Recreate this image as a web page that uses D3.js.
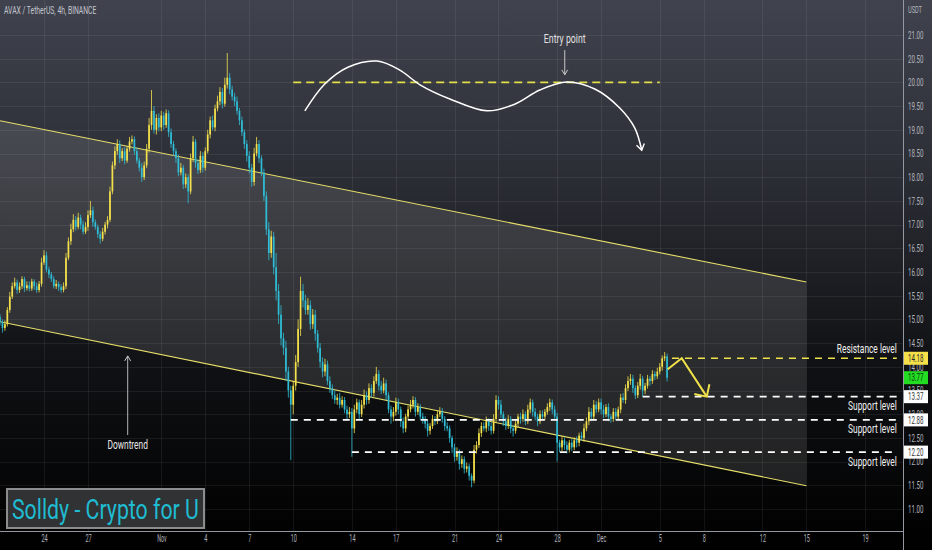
<!DOCTYPE html>
<html>
<head>
<meta charset="utf-8">
<script src="https://cdn.jsdelivr.net/npm/d3@7"></script>
<style>
  html, body { margin: 0; padding: 0; background: #000; }
  svg { display: block; }
  text { font-family: Roboto, "Liberation Sans", sans-serif; }
</style>
</head>
<body>
<svg id="chart" width="932" height="550"></svg>
<script>
// AVAX / TetherUS 4h candles, first bar 2022-10-21 00:00 UTC
const firstBar = "2022-10-21T00:00";
const firstOpen = 15.05;

// closes, six bars a day
const closes = [
  14.95, 14.82, 14.90, 15.20, 15.48, 15.70, // oct 21
  15.78, 15.62, 15.70, 15.85, 15.66, 15.72,
  15.65, 15.80, 15.70, 15.62, 15.75, 16.20,
  16.35, 16.05, 15.95, 15.85, 15.70, 15.75, // oct 24
  15.68, 15.62, 15.70, 16.30, 16.65, 16.90,
  17.10, 16.95, 17.15, 17.00, 16.85, 16.95,
  17.20, 17.30, 17.05, 16.95, 16.80, 16.70, // oct 27
  16.85, 17.00, 17.10, 17.70, 18.25, 18.55,
  18.70, 18.40, 18.55, 18.35, 18.60, 18.75,
  18.80, 18.55, 18.35, 18.20, 18.00, 18.25, // oct 30
  18.60, 19.10, 19.40, 19.00, 19.25, 19.05,
  19.30, 19.10, 19.35, 18.95, 18.70, 18.55, // nov 1
  18.40, 18.10, 18.20, 17.85, 18.00, 17.70,
  18.40, 18.75, 18.30, 18.15, 18.45, 18.20,
  18.55, 18.90, 19.20, 19.05, 19.45, 19.60, // nov 4
  19.80, 19.55, 19.95, 20.10, 19.85, 19.70,
  19.60, 19.40, 19.20, 18.95, 18.70, 18.45,
  18.20, 17.90, 18.50, 18.70, 18.40, 18.10, // nov 7
  17.60, 16.90, 16.40, 16.75, 16.10, 15.60,
  15.10, 14.60, 14.40, 13.90, 13.50, 13.20,
  13.60, 14.10, 14.80, 15.60, 15.40, 15.20, // nov 10
  15.30, 14.90, 15.10, 14.70, 14.40, 14.10,
  13.90, 14.05, 13.70, 13.55, 13.40, 13.30,
  13.35, 13.20, 13.30, 13.10, 13.00, 13.05,
  12.70, 13.10, 13.25, 13.00, 13.20, 13.40, // nov 14
  13.30, 13.55, 13.45, 13.70, 13.85, 13.60,
  13.50, 13.65, 13.40, 13.10, 12.95, 13.05,
  13.25, 13.10, 12.85, 12.70, 12.95, 13.10, // nov 17
  13.20, 13.30, 13.05, 13.15, 12.95, 12.90,
  12.80, 12.65, 12.75, 12.90, 12.85, 13.00,
  13.05, 12.90, 12.75, 12.70, 12.50, 12.30,
  12.10, 12.20, 11.95, 12.05, 11.85, 11.90, // nov 21
  11.70, 11.60, 12.25, 12.35, 12.60, 12.75,
  12.70, 12.85, 12.75, 12.65, 12.90, 13.30,
  13.20, 13.00, 12.85, 12.75, 12.90, 12.70, // nov 24
  12.65, 12.80, 12.95, 12.90, 13.00, 12.85,
  13.10, 13.25, 13.05, 12.95, 12.85, 13.00,
  12.95, 13.05, 13.15, 13.25, 13.10, 12.95,
  12.40, 12.30, 12.45, 12.35, 12.25, 12.40, // nov 28
  12.30, 12.45, 12.40, 12.55, 12.50, 12.70,
  12.85, 13.05, 12.95, 13.20, 13.10, 13.25,
  13.10, 13.00, 13.15, 12.95, 12.90, 13.05, // dec 1
  12.95, 13.10, 13.35, 13.30, 13.55, 13.70,
  13.75, 13.55, 13.40, 13.60, 13.75, 13.50,
  13.60, 13.75, 13.70, 13.85, 13.80, 13.90,
  14.00, 14.18, 14.22, 13.77                // dec 5
];

// wick lengths beyond the body, in cents
const wickUp = [
  6, 5, 8, 6, 10, 8,   10, 6, 8, 6, 5, 8,   8, 6, 5, 8, 6, 10,
  11, 8, 6, 5, 6, 8,   5, 6, 8, 10, 8, 12,  12, 8, 10, 6, 8, 10,
  10, 20, 8, 6, 5, 6,  8, 6, 8, 10, 8, 10,  10, 8, 6, 8, 6, 10,
  8, 6, 8, 6, 10, 8,   10, 15, 44, 10, 8, 10,
  10, 8, 8, 6, 8, 6,   6, 8, 10, 6, 8, 6,   10, 12, 6, 8, 10, 8,
  8, 10, 8, 10, 8, 12, 10, 8, 15, 52, 10, 8, 8, 10, 6, 8, 6, 8,
  10, 8, 12, 15, 8, 6, 8, 10, 15, 12, 10, 30, 15, 20, 12, 15, 10, 10,
  10, 15, 20, 30, 15, 12, 15, 10, 12, 10, 8, 10, 10, 12, 8, 10, 8, 10,
  8, 10, 8, 6, 8, 10,  8, 10, 8, 6, 10, 12, 8, 10, 8, 10, 15, 8,
  10, 12, 8, 6, 8, 10, 10, 8, 6, 8, 6, 8,   10, 8, 6, 8, 6, 8,
  6, 8, 6, 8, 6, 8,    10, 8, 6, 8, 6, 5,   8, 10, 6, 8, 6, 8,
  6, 5, 10, 8, 10, 8,  8, 10, 6, 8, 10, 10, 8, 10, 6, 8, 8, 6,
  6, 8, 6, 8, 10, 6,   10, 8, 6, 8, 6, 8,   8, 6, 8, 8, 6, 8,
  8, 6, 8, 6, 8, 6,    8, 6, 8, 6, 8, 10,   8, 10, 8, 10, 8, 8,
  8, 10, 6, 8, 6, 8,   8, 6, 8, 10, 8, 10,  10, 8, 6, 8, 10, 6,
  6, 8, 6, 8, 6, 8,    8, 6, 9, 6
];
const wickDown = [
  8, 10, 6, 5, 6, 5,   5, 8, 6, 6, 8, 5,    6, 5, 8, 6, 5, 6,
  5, 6, 8, 6, 5, 6,    8, 6, 5, 6, 5, 8,    6, 8, 5, 10, 6, 5,
  8, 6, 10, 6, 8, 10,  5, 6, 8, 5, 6, 8,    8, 10, 6, 8, 5, 6,
  6, 8, 6, 8, 10, 6,   6, 8, 10, 8, 10, 8,
  8, 10, 6, 10, 8, 10, 10, 8, 6, 10, 8, 25, 6, 8, 10, 8, 6, 10,
  6, 5, 8, 6, 8, 6,    8, 10, 6, 8, 10, 8,  10, 8, 10, 8, 10, 12,
  12, 10, 8, 6, 10, 8, 10, 12, 15, 10, 15, 20, 20, 15, 15, 20, 15, 117,
  20, 10, 10, 15, 15, 10, 10, 12, 10, 15, 10, 12, 12, 10, 8, 10, 8, 8,
  10, 8, 6, 8, 10, 8,  60, 10, 8, 10, 6, 8, 10, 8, 10, 8, 6, 10,
  8, 6, 10, 8, 15, 10, 8, 10, 12, 10, 8, 6,  6, 8, 10, 6, 8, 10,
  10, 12, 8, 6, 8, 6,  6, 8, 10, 6, 10, 12, 10, 8, 12, 8, 10, 8,
  10, 14, 6, 8, 6, 8,  6, 8, 10, 8, 6, 8,   10, 8, 10, 8, 6, 10,
  12, 6, 8, 10, 6, 8,  6, 8, 10, 8, 10, 6,  6, 8, 6, 8, 10, 8,
  40, 10, 8, 10, 8, 6, 8, 6, 10, 8, 6, 8,   6, 8, 10, 6, 8, 6,
  10, 8, 6, 10, 8, 6,  8, 6, 8, 6, 8, 6,    8, 10, 8, 6, 8, 13,
  8, 6, 10, 6, 8, 6,   6, 8, 6, 8
];

const lastPrice = 13.77;

const xTicks = ["2022-10-24", "2022-10-27", "2022-11-01", "2022-11-04", "2022-11-07", "2022-11-10",
  "2022-11-14", "2022-11-17", "2022-11-21", "2022-11-24", "2022-11-28", "2022-12-01",
  "2022-12-05", "2022-12-08", "2022-12-12", "2022-12-15", "2022-12-19"];
const xTickLabels = ["24", "27", "Nov", "4", "7", "10", "14", "17", "21", "24", "28", "Dec", "5", "8", "12", "15", "19"];
const yTicks = [11, 11.5, 12, 12.5, 13, 13.5, 14, 14.5, 15, 15.5, 16, 16.5, 17, 17.5, 18, 18.5, 19, 19.5, 20, 20.5, 21];

// drawn channel
const channelDates = ["2022-10-21T00:00", "2022-12-15T00:00"];
const channelUpper = [19.19, 15.79];
const channelLower = [14.95, 11.49];

// levels
const levelNames = ["Resistance level", "Support level", "Support level", "Support level"];
const levelPrices = [14.18, 13.37, 12.88, 12.20];
const levelStarts = ["2022-12-05T20:00", "2022-12-03T20:00", "2022-11-09T20:00", "2022-11-14T00:00"];
const levelEnd = "2022-12-21T04:00";

const entryPrice = 20.00;
const entryDates = ["2022-11-10T00:00", "2022-12-05T00:00"];
const entryArrowDate = "2022-11-28T12:30";
const entryArrowPrices = [20.68, 20.16];
const entryTextPrice = 20.92;

// hand drawn scenario curve
const pathDates = ["2022-11-10T19:00", "2022-11-12T04:00", "2022-11-13T17:30", "2022-11-15T17:00",
  "2022-11-17T06:30", "2022-11-18T15:30", "2022-11-20T16:30", "2022-11-23T05:00", "2022-11-25T02:30",
  "2022-11-26T19:40", "2022-11-28T16:00", "2022-11-30T13:40", "2022-12-02T06:30", "2022-12-03T07:00",
  "2022-12-03T18:30"];
const pathPrices = [19.40, 19.97, 20.32, 20.45, 20.26, 19.95, 19.65, 19.40, 19.54, 19.84, 20.01, 19.86,
  19.46, 19.04, 18.57];

// expected move arrow
const moveDates = ["2022-12-05T13:00", "2022-12-06T12:00", "2022-12-08T05:00"];
const movePrices = [13.95, 14.18, 13.37];

const downtrendDate = "2022-10-29T17:00";
const downtrendPrices = [12.56, 14.23];
const downtrendTextPrice = 12.35;

// ---------------------------------------------------------------
const W = 932, H = 550, plotR = 903, plotB = 531;
const parse = d3.utcParse("%Y-%m-%dT%H:%M");
const parseDay = d3.utcParse("%Y-%m-%d");

const x = d3.scaleUtc()
  .domain([parseDay("2022-10-24"), parseDay("2022-12-19")])
  .range([44, 865]);
const y = d3.scaleLinear()
  .domain([11, 21])
  .range([509, 35]);

// TradingView's font is narrow: squeeze the glyphs horizontally to that width
function narrow(sel, perChar) {
  sel.each(function () {
    const t = d3.select(this);
    const natural = this.getComputedTextLength();
    const sx = (this.textContent.length * perChar) / natural;
    const x0 = +t.attr("x") || 0;
    t.attr("x", x0 / sx).attr("transform", `scale(${sx},1)`);
  });
}

const svg = d3.select("#chart");
const defs = svg.append("defs");

const grad = defs.append("linearGradient").attr("id", "bg")
  .attr("x1", 0).attr("y1", 0).attr("x2", 0).attr("y2", 1);
grad.append("stop").attr("offset", "0").attr("stop-color", "#40434e");
grad.append("stop").attr("offset", "0.3").attr("stop-color", "#2d2f37");
grad.append("stop").attr("offset", "0.65").attr("stop-color", "#111215");
grad.append("stop").attr("offset", "1").attr("stop-color", "#000000");

defs.append("clipPath").attr("id", "plot")
  .append("rect").attr("width", plotR).attr("height", plotB);

function marker(id, color, len, spread, width) {
  defs.append("marker")
    .attr("id", id)
    .attr("viewBox", `${-len - 2} ${-spread - 2} ${len + 4} ${2 * spread + 4}`)
    .attr("refX", 0).attr("refY", 0)
    .attr("markerWidth", len + 4).attr("markerHeight", 2 * spread + 4)
    .attr("markerUnits", "userSpaceOnUse")
    .attr("orient", "auto")
    .append("path")
    .attr("d", `M${-len},${-spread}L0,0L${-len},${spread}`)
    .attr("fill", "none")
    .attr("stroke", color)
    .attr("stroke-width", width);
}
marker("headWhite", "#ffffff", 6, 4, 1.4);
marker("headGrey", "#c8c8c8", 5, 3, 1);
marker("headYellow", "#f0e24a", 9, 9, 2);

svg.append("rect").attr("width", W).attr("height", H).attr("fill", "url(#bg)");

// grid
const grid = svg.append("g").attr("stroke", "rgba(255,255,255,0.065)").attr("stroke-width", 1);
grid.selectAll(".h").data(yTicks).join("line")
  .attr("x1", 0).attr("x2", plotR)
  .attr("y1", d => Math.round(y(d)) + 0.5).attr("y2", d => Math.round(y(d)) + 0.5);
grid.selectAll(".v").data(xTicks).join("line")
  .attr("y1", 0).attr("y2", plotB)
  .attr("x1", d => Math.round(x(parseDay(d))) + 0.5).attr("x2", d => Math.round(x(parseDay(d))) + 0.5);

const plot = svg.append("g").attr("clip-path", "url(#plot)");

// channel
const cd = channelDates.map(parse);
const channelPoly = [
  [x(cd[0]), y(channelUpper[0])], [x(cd[1]), y(channelUpper[1])],
  [x(cd[1]), y(channelLower[1])], [x(cd[0]), y(channelLower[0])]
];
plot.append("path")
  .attr("d", d3.line()(channelPoly) + "Z")
  .attr("fill", "rgba(255,255,255,0.11)");
[channelUpper, channelLower].forEach(p => {
  plot.append("line")
    .attr("x1", x(cd[0])).attr("y1", y(p[0]))
    .attr("x2", x(cd[1])).attr("y2", y(p[1]))
    .attr("stroke", "#e6de6a").attr("stroke-width", 1.1);
});

// candles
const t0 = parse(firstBar);
const bars = closes.map((c, i) => {
  const o = i ? closes[i - 1] : firstOpen;
  return {
    t: d3.utcHour.offset(t0, 4 * i),
    o, c,
    h: Math.max(o, c) + wickUp[i] / 100,
    l: Math.min(o, c) - wickDown[i] / 100
  };
});
const upCol = "#f3e04c", downCol = "#2fbcd4";
const candles = plot.append("g").selectAll("g").data(bars).join("g")
  .attr("fill", d => d.c >= d.o ? upCol : downCol)
  .attr("stroke", d => d.c >= d.o ? upCol : downCol);
candles.append("line")
  .attr("x1", d => x(d.t)).attr("x2", d => x(d.t))
  .attr("y1", d => y(d.h)).attr("y2", d => y(d.l))
  .attr("stroke-width", 0.8);
candles.append("rect")
  .attr("x", d => x(d.t) - 0.85)
  .attr("width", 1.7)
  .attr("y", d => y(Math.max(d.o, d.c)))
  .attr("height", d => Math.max(1, Math.abs(y(d.o) - y(d.c))))
  .attr("stroke", "none");

// entry level
plot.append("line")
  .attr("x1", x(parse(entryDates[0]))).attr("x2", x(parse(entryDates[1])))
  .attr("y1", y(entryPrice)).attr("y2", y(entryPrice))
  .attr("stroke", "#e2df48").attr("stroke-width", 1.8)
  .attr("stroke-dasharray", "8,5");

// support / resistance levels
levelPrices.forEach((p, i) => {
  const col = i === 0 ? "#f0e24a" : "#ffffff";
  plot.append("line")
    .attr("x1", x(parse(levelStarts[i]))).attr("x2", x(parse(levelEnd)))
    .attr("y1", y(p)).attr("y2", y(p))
    .attr("stroke", col).attr("stroke-width", 1.6)
    .attr("stroke-dasharray", "7,6");
  plot.append("text")
    .attr("x", x(parse(levelEnd)))
    .attr("y", i === 0 ? y(p) - 5 : y(p) + 13.5)
    .attr("text-anchor", "end")
    .attr("fill", "#f0f0f0")
    .attr("font-size", 12)
    .text(levelNames[i])
    .call(narrow, 3.75);
});

// scenario curve
const curve = d3.line()
  .x((d, i) => x(parse(pathDates[i])))
  .y(d => y(d))
  .curve(d3.curveCatmullRom.alpha(0.5));
plot.append("path")
  .attr("d", curve(pathPrices))
  .attr("fill", "none")
  .attr("stroke", "#ffffff").attr("stroke-width", 1.5)
  .attr("marker-end", "url(#headWhite)");

// entry arrow and label
const ex = x(parse(entryArrowDate));
plot.append("line")
  .attr("x1", ex).attr("x2", ex)
  .attr("y1", y(entryArrowPrices[0])).attr("y2", y(entryArrowPrices[1]))
  .attr("stroke", "#c8c8c8").attr("stroke-width", 1)
  .attr("marker-end", "url(#headGrey)");
plot.append("text")
  .attr("x", ex).attr("y", y(entryTextPrice)).attr("dy", "0.35em")
  .attr("text-anchor", "middle").attr("fill", "#e0e0e0").attr("font-size", 12)
  .text("Entry point")
  .call(narrow, 3.8);

// downtrend arrow and label
const dx = x(parse(downtrendDate));
plot.append("line")
  .attr("x1", dx).attr("x2", dx)
  .attr("y1", y(downtrendPrices[0])).attr("y2", y(downtrendPrices[1]))
  .attr("stroke", "#b4b4b4").attr("stroke-width", 1)
  .attr("marker-end", "url(#headGrey)");
plot.append("text")
  .attr("x", dx).attr("y", y(downtrendTextPrice)).attr("dy", "0.35em")
  .attr("text-anchor", "middle").attr("fill", "#e8e8e8").attr("font-size", 12)
  .text("Downtrend")
  .call(narrow, 4.5);

// expected move
plot.append("path")
  .attr("d", d3.line().x((d, i) => x(parse(moveDates[i]))).y(d => y(d))(movePrices))
  .attr("fill", "none")
  .attr("stroke", "#f0e24a").attr("stroke-width", 2)
  .attr("stroke-linejoin", "miter")
  .attr("marker-end", "url(#headYellow)");

// axes
const yAxis = svg.append("g")
  .attr("transform", `translate(${plotR},0)`)
  .call(d3.axisRight(y).tickValues(yTicks).tickFormat(d3.format(".2f")).tickSize(0).tickPadding(5));
const xAxis = svg.append("g")
  .attr("transform", `translate(0,${plotB})`)
  .call(d3.axisBottom(x).tickValues(xTicks.map(parseDay)).tickFormat((d, i) => xTickLabels[i]).tickSize(0).tickPadding(4));
[yAxis, xAxis].forEach(a => {
  a.select(".domain").remove();
  a.selectAll("text").attr("fill", "#b2b5be").attr("font-size", 10.5).call(narrow, 3.1);
});

svg.append("line").attr("x1", 0).attr("x2", plotR).attr("y1", plotB + 0.5).attr("y2", plotB + 0.5)
  .attr("stroke", "#9598a1");
svg.append("line").attr("x1", plotR + 0.5).attr("x2", plotR + 0.5).attr("y1", 0).attr("y2", H)
  .attr("stroke", "#9598a1");

svg.append("text").attr("x", 908).attr("y", 13)
  .attr("fill", "#b2b5be").attr("font-size", 9.5).text("USDT")
  .call(narrow, 3.5);

// price tags on the axis
const tags = levelPrices.slice(0, 1).concat([lastPrice], levelPrices.slice(1));
const tagFill = ["#f5e04a", "#22dd22", "#ffffff", "#ffffff", "#ffffff"];
const tagText = ["#2a2a2a", "#0d3a0d", "#333333", "#333333", "#333333"];
const tagG = svg.append("g").selectAll("g").data(tags).join("g")
  .attr("transform", d => `translate(${plotR + 1},${y(d)})`);
tagG.append("rect").attr("x", 0).attr("y", -6.5).attr("width", 24).attr("height", 13)
  .attr("fill", (d, i) => tagFill[i]);
tagG.append("text").attr("x", 4).attr("dy", "0.35em").attr("font-size", 10.5)
  .attr("fill", (d, i) => tagText[i])
  .text(d => d3.format(".2f")(d))
  .call(narrow, 3.1);

// title
svg.append("text").attr("x", 4).attr("y", 14)
  .attr("fill", "#c3c6ce").attr("font-size", 10.5)
  .text("AVAX / TetherUS, 4h, BINANCE")
  .call(narrow, 3.3);

// watermark box
svg.append("rect").attr("x", 7).attr("y", 489).attr("width", 197).attr("height", 39)
  .attr("fill", "#303234").attr("stroke", "#8c8c8c").attr("stroke-width", 2);
svg.append("text").attr("x", 12).attr("y", 519)
  .attr("fill", "#1fbcd2").attr("font-size", 27)
  .text("Solldy - Crypto for U")
  .call(narrow, 187 / 21);
</script>
</body>
</html>
